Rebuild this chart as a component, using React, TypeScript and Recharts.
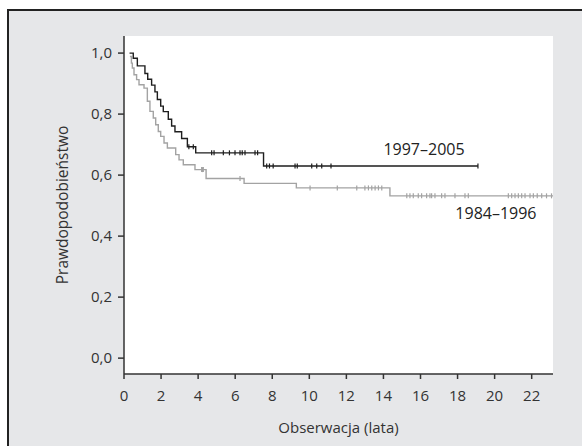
import { ComposedChart, Line, Scatter, XAxis, YAxis, CartesianGrid, ReferenceDot } from 'recharts';

// 1997–2005 group (black)
const recentTimes = [0.3, 0.5, 0.72, 1.13, 1.28, 1.49, 1.67, 1.8, 1.98, 2.12, 2.39, 2.57, 2.75, 3.11, 3.42, 3.87, 7.53, 19.1];
const recentSurv = [1.0, 0.983, 0.958, 0.933, 0.914, 0.895, 0.873, 0.848, 0.826, 0.808, 0.783, 0.761, 0.742, 0.72, 0.693, 0.673, 0.63, 0.63];
const recentCensored = [3.5, 3.74, 4.73, 4.86, 5.36, 5.69, 5.99, 6.26, 6.38, 6.53, 7.07, 7.21, 7.7, 7.85, 8.05, 9.23, 9.35, 10.13, 10.4, 10.67, 11.17, 19.1];

// 1984–1996 group (gray)
const earlyTimes = [0.32, 0.4, 0.45, 0.54, 0.68, 0.81, 1.08, 1.26, 1.4, 1.58, 1.71, 1.85, 1.98, 2.16, 2.34, 2.79, 2.97, 3.2, 3.83, 4.43, 6.48, 9.3, 14.35, 23.15];
const earlySurv = [0.989, 0.967, 0.951, 0.929, 0.913, 0.896, 0.885, 0.842, 0.809, 0.787, 0.765, 0.743, 0.727, 0.705, 0.689, 0.667, 0.65, 0.634, 0.618, 0.589, 0.573, 0.558, 0.532, 0.532];
const earlyCensored = [4.19, 4.24, 4.28, 6.26, 10.04, 11.51, 12.56, 13.0, 13.19, 13.37, 13.55, 13.73, 13.91, 15.26, 15.43, 15.61, 15.88, 16.06, 16.33, 16.51, 16.6, 16.78, 17.14, 17.32, 17.86, 18.4, 18.58, 20.74, 20.92, 21.1, 21.28, 21.46, 21.64, 21.91, 22.09, 22.3, 22.54, 22.8, 23.07];

const xTicks = [0, 2, 4, 6, 8, 10, 12, 14, 16, 18, 20, 22];
const yTicks = [0, 0.2, 0.4, 0.6, 0.8, 1.0];

const FONT = '"Open Sans", "Noto Sans", sans-serif';
const BLACK = '#1e1e1e';
const GRAY = '#a3a3a3';
const TEXT = '#333';

function stepAt(times: number[], surv: number[], t: number) {
    let s = surv[0];
    for (let i = 0; i < times.length; i++) {
        if (times[i] <= t) s = surv[i];
    }
    return s;
}

const recentLine = recentTimes.map((t, i) => ({ t, s: recentSurv[i] }));
const earlyLine = earlyTimes.map((t, i) => ({ t, s: earlySurv[i] }));
const recentMarks = recentCensored.map((t) => ({ t, s: stepAt(recentTimes, recentSurv, t) }));
const earlyMarks = earlyCensored.map((t) => ({ t, s: stepAt(earlyTimes, earlySurv, t) }));

// censor mark: small vertical tick on the curve
const tick = (color: string) => (props: any) => {
    const { cx, cy } = props;
    return <line x1={cx} x2={cx} y1={cy - 2.5} y2={cy + 2.5} stroke={color} strokeWidth={1.2} />;
};

const fmt = (v: number) => v.toFixed(1).replace('.', ',');

export default function App() {
    return (
        <div style={{ position: 'absolute', left: 0, top: 0, width: 582, height: 446, overflow: 'hidden', background: '#fff' }}>
            <div
                style={{
                    position: 'absolute',
                    left: 7,
                    top: 9,
                    width: 620,
                    height: 480,
                    background: '#e6e7e9',
                    borderTop: '2px solid #222',
                    borderLeft: '2px solid #222',
                }}
            />
            <div style={{ position: 'absolute', left: 0, top: 0 }}>
                <ComposedChart width={582} height={446} margin={{ top: 36, right: 29, left: 0, bottom: 0 }}>
                    <CartesianGrid horizontal={false} vertical={false} fill="#ffffff" />
                    <XAxis
                        type="number"
                        dataKey="t"
                        domain={[0, 23.15]}
                        ticks={xTicks}
                        allowDataOverflow
                        height={72}
                        tickSize={5}
                        stroke="#333"
                        strokeWidth={1.5}
                        tick={{ fill: TEXT, fontSize: 15, fontFamily: FONT }}
                        tickMargin={11}
                        label={{ value: 'Obserwacja (lata)', position: 'insideBottom', offset: 13, fill: TEXT, fontSize: 15, fontFamily: FONT }}
                    />
                    <YAxis
                        type="number"
                        dataKey="s"
                        domain={[-0.052, 1.056]}
                        ticks={yTicks}
                        allowDataOverflow
                        width={124}
                        tickSize={6}
                        stroke="#333"
                        strokeWidth={1.5}
                        tickFormatter={fmt}
                        tick={{ fill: TEXT, fontSize: 15, fontFamily: FONT }}
                        tickMargin={6}
                        label={{ value: 'Prawdopodobieństwo', angle: -90, position: 'center', dx: 0, fill: TEXT, fontSize: 15.5, fontFamily: FONT }}
                    />
                    <Line data={earlyLine} dataKey="s" type="stepAfter" stroke={GRAY} strokeWidth={1.4} dot={false} isAnimationActive={false} />
                    <Line data={recentLine} dataKey="s" type="stepAfter" stroke={BLACK} strokeWidth={1.4} dot={false} isAnimationActive={false} />
                    <Scatter data={earlyMarks} dataKey="s" shape={tick(GRAY)} isAnimationActive={false} />
                    <Scatter data={recentMarks} dataKey="s" shape={tick(BLACK)} isAnimationActive={false} />
                    <ReferenceDot
                        x={16.19}
                        y={0.686}
                        r={0}
                        fill="none"
                        stroke="none"
                        label={{ value: '1997–2005', position: 'center', fill: '#222', fontSize: 16, fontFamily: FONT }}
                    />
                    <ReferenceDot
                        x={20.07}
                        y={0.474}
                        r={0}
                        fill="none"
                        stroke="none"
                        label={{ value: '1984–1996', position: 'center', fill: '#222', fontSize: 16, fontFamily: FONT }}
                    />
                </ComposedChart>
            </div>
        </div>
    );
}
